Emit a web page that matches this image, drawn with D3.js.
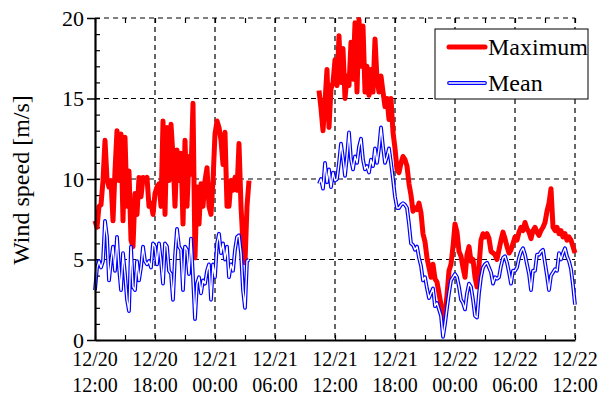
<!DOCTYPE html>
<html>
<head>
<meta charset="utf-8">
<script src="https://cdn.jsdelivr.net/npm/d3@7"></script>
<style>
body { margin:0; background:#fff; }
svg { display:block; font-family:"Liberation Serif","Times New Roman",serif; }
.grid line { stroke:#000; stroke-width:1.2; stroke-dasharray:5,4; }
</style>
</head>
<body>
<svg id="chart" width="600" height="396"></svg>
<script>
// samples every 12 min, time in hours from 12/20 12:00
var step = 0.2;
var seg1Start = 0, seg2Start = 22.4;

var max1 = [7.4,7.0,8.3,8.4,9.9,12.4,10.0,9.5,9.9,7.4,
  10.5,13.0,9.9,12.8,7.4,12.6,8.3,10.5,6.2,5.8,
  9.1,7.8,10.1,8.9,10.1,9.9,10.1,8.3,8.5,7.8,
  9.1,9.5,9.7,8.3,13.6,7.8,13.2,9.9,13.4,11.4,
  8.3,11.8,9.9,11.6,7.2,12.4,8.3,11.4,10.3,14.7,
  5.1,9.5,7.2,9.7,8.3,9.9,10.7,8.3,7.8,9.9,
  12.8,13.6,13.2,12.4,10.9,12.9,8.3,8.3,9.9,9.3,
  10.1,9.3,12.2,8.3,6.0,4.8,8.3,9.9];
var mean1 = [3.1,4.5,4.9,4.5,4.9,7.4,6.4,3.7,4.9,5.8,
  4.3,6.4,4.5,3.1,5.4,4.1,2.5,1.8,5.8,3.3,
  3.1,4.9,3.7,4.5,5.8,4.9,4.7,4.9,4.5,6.0,
  5.8,4.7,6.0,4.9,3.5,6.0,5.8,4.3,4.1,2.5,
  5.2,6.9,5.8,5.6,3.1,5.8,5.6,4.1,6.3,3.9,
  1.3,3.5,3.9,2.9,3.7,3.5,4.3,4.7,2.5,4.7,
  3.9,6.0,6.6,5.4,6.0,5.0,5.8,3.9,4.7,4.3,
  5.6,6.4,6.5,5.4,3.1,2.0,4.9,5.0];
var max2 = [15.5,14.4,13.0,14.8,16.8,13.2,15.6,16.0,17.4,15.8,
  18.9,16.0,18.1,15.0,16.4,15.8,18.5,16.2,19.7,15.4,
  19.9,17.0,19.5,15.4,17.0,15.2,16.8,15.4,18.7,16.2,
  15.4,16.4,15.4,14.5,15.0,13.7,15.0,12.9,11.9,10.6,
  10.4,11.0,11.4,11.2,10.8,9.7,9.0,8.0,8.2,8.1,
  8.5,7.9,6.6,6.1,5.1,4.5,3.9,4.7,3.8,3.6,
  2.9,2.2,1.3,1.5,2.8,4.3,4.7,5.8,7.2,6.7,
  5.5,5.2,4.5,3.9,5.3,5.8,4.9,5.0,3.9,3.3,
  4.6,6.2,6.6,6.4,6.6,6.3,5.5,5.4,5.3,5.0,
  5.6,6.2,6.7,6.3,5.8,5.4,5.6,6.0,6.4,6.2,
  6.7,7.0,6.8,7.3,6.9,6.7,6.3,6.8,7.0,6.7,
  6.5,6.8,7.0,7.3,8.0,8.5,9.4,7.0,6.8,7.0,
  6.6,6.8,6.4,6.6,6.2,6.4,6.2,5.8,5.4];
var mean2 = [9.7,10.0,9.4,11.0,9.8,10.6,9.5,10.4,9.9,10.0,
  11.0,12.2,11.3,10.2,11.4,12.9,11.2,10.6,11.4,11.0,
  12.0,12.5,11.2,10.6,10.8,10.4,11.2,10.8,11.9,11.0,
  11.9,13.2,12.0,11.0,11.4,11.9,11.0,10.0,8.9,8.2,
  8.2,8.4,8.5,8.4,8.2,7.2,6.0,5.9,5.6,5.8,
  5.1,4.6,3.7,3.9,3.2,2.6,2.9,3.2,2.1,2.3,
  1.9,1.5,0.2,1.0,2.0,2.9,3.7,3.9,4.1,3.9,
  3.3,2.5,2.3,1.9,2.9,3.5,3.3,2.5,1.5,1.4,
  2.9,3.9,4.5,4.7,4.8,4.5,4.2,3.5,3.9,3.8,
  3.9,4.6,5.1,5.2,4.8,4.2,3.5,4.3,4.3,4.5,
  5.1,5.5,5.7,5.3,4.7,4.1,3.1,4.3,4.3,5.3,
  5.3,5.5,5.6,4.8,4.0,3.1,4.0,4.2,4.4,4.3,
  5.4,5.0,5.4,5.7,5.2,4.9,4.4,3.4,2.2];

var tickHours = [0,6,12,18,24,30,36,42,48];
var tickDates = ["12/20","12/20","12/21","12/21","12/21","12/21","12/22","12/22","12/22"];
var tickTimes = ["12:00","18:00","00:00","06:00","12:00","18:00","00:00","06:00","12:00"];
var yTicks = [0,5,10,15,20];
var seriesNames = ["Maximum","Mean"];

var svg = d3.select("#chart");
var pL = 95, pR = 575, pT = 18, pB = 340;

var x = d3.scaleLinear().domain([0,48]).range([pL,pR]);
var y = d3.scaleLinear().domain([0,20]).range([pB,pT]);

function pts(start, vals) {
  return vals.map(function(v,i){ return [start + i*step, v]; });
}
var segsMax = [pts(seg1Start,max1), pts(seg2Start,max2)];
var segsMean = [pts(seg1Start,mean1), pts(seg2Start,mean2)];

// grid
var grid = svg.append("g").attr("class","grid");
grid.selectAll(".gy").data([5,10,15,20]).enter().append("line")
  .attr("x1",pL).attr("x2",pR)
  .attr("y1",function(d){return y(d);}).attr("y2",function(d){return y(d);});
grid.selectAll(".gx").data(tickHours.slice(1)).enter().append("line")
  .attr("y1",pT).attr("y2",pB)
  .attr("x1",function(d){return x(d);}).attr("x2",function(d){return x(d);});

// minor ticks
var hr3 = d3.range(0,49,3);
svg.append("g").attr("transform","translate(0,"+pB+")")
  .call(d3.axisTop(x).tickValues(hr3).tickSize(5).tickFormat(""))
  .call(function(g){ g.select(".domain").remove(); g.selectAll("line").attr("stroke-width",1.2); });
svg.append("g").attr("transform","translate(0,"+pT+")")
  .call(d3.axisBottom(x).tickValues(hr3).tickSize(5).tickFormat(""))
  .call(function(g){ g.select(".domain").remove(); g.selectAll("line").attr("stroke-width",1.2); });
svg.append("g").attr("transform","translate("+pL+",0)")
  .call(d3.axisRight(y).tickValues(d3.range(0,21,1)).tickSize(5).tickFormat(""))
  .call(function(g){ g.select(".domain").remove(); g.selectAll("line").attr("stroke-width",1.2); });

// lines
var line = d3.line().x(function(d){return x(d[0]);}).y(function(d){return y(d[1]);});
svg.selectAll(".maxl").data(segsMax).enter().append("path")
  .attr("d",line).attr("fill","none").attr("stroke","#ff0000")
  .attr("stroke-width",5).attr("stroke-linejoin","round");
svg.selectAll(".meanl").data(segsMean).enter().append("path")
  .attr("d",line).attr("fill","none").attr("stroke","#0000ff")
  .attr("stroke-width",3.8).attr("stroke-linejoin","round");
svg.selectAll(".meanw").data(segsMean).enter().append("path")
  .attr("d",line).attr("fill","none").attr("stroke","#fff")
  .attr("stroke-width",1.4).attr("stroke-linejoin","round");

// y axis
var yAxis = svg.append("g").attr("transform","translate("+pL+",0)")
  .call(d3.axisLeft(y).tickValues(yTicks).tickSize(8).tickSizeOuter(0).tickPadding(3));
yAxis.select(".domain").attr("stroke-width",2.2);
yAxis.selectAll("line").attr("stroke-width",1.5);
yAxis.selectAll("text").attr("font-size",22).attr("font-family","Liberation Serif").attr("fill","#000");

// x axis
var xAxis = svg.append("g").attr("transform","translate(0,"+pB+")")
  .call(d3.axisBottom(x).tickValues(tickHours).tickSize(0).tickSizeOuter(0).tickFormat(""));
xAxis.select(".domain").attr("stroke-width",2.2);
var lab = svg.append("g").attr("font-size",20).attr("text-anchor","middle");
lab.selectAll("text.d").data(tickHours).enter().append("text")
  .attr("x",function(d){return x(d);}).attr("y",366)
  .text(function(d,i){return tickDates[i];});
lab.selectAll("text.t").data(tickHours).enter().append("text")
  .attr("x",function(d){return x(d);}).attr("y",392)
  .text(function(d,i){return tickTimes[i];});

svg.append("text").attr("transform","translate(29,180) rotate(-90)")
  .attr("text-anchor","middle").attr("font-size",24).text("Wind speed [m/s]");

// legend
var lg = svg.append("g").attr("transform","translate(435,29)");
lg.append("rect").attr("width",153).attr("height",70).attr("fill","#fff").attr("stroke","#000").attr("stroke-width",1);
lg.append("line").attr("x1",14).attr("x2",50).attr("y1",18).attr("y2",18)
  .attr("stroke","#ff0000").attr("stroke-width",5).attr("stroke-linecap","round");
lg.append("line").attr("x1",14).attr("x2",50).attr("y1",54).attr("y2",54)
  .attr("stroke","#0000ff").attr("stroke-width",3.8).attr("stroke-linecap","round");
lg.append("line").attr("x1",14).attr("x2",50).attr("y1",54).attr("y2",54)
  .attr("stroke","#fff").attr("stroke-width",1.4).attr("stroke-linecap","round");
lg.selectAll("text").data(seriesNames).enter().append("text")
  .attr("x",53).attr("y",function(d,i){return 26 + i*36;})
  .attr("font-size",24).text(function(d){return d;});
</script>
</body>
</html>
